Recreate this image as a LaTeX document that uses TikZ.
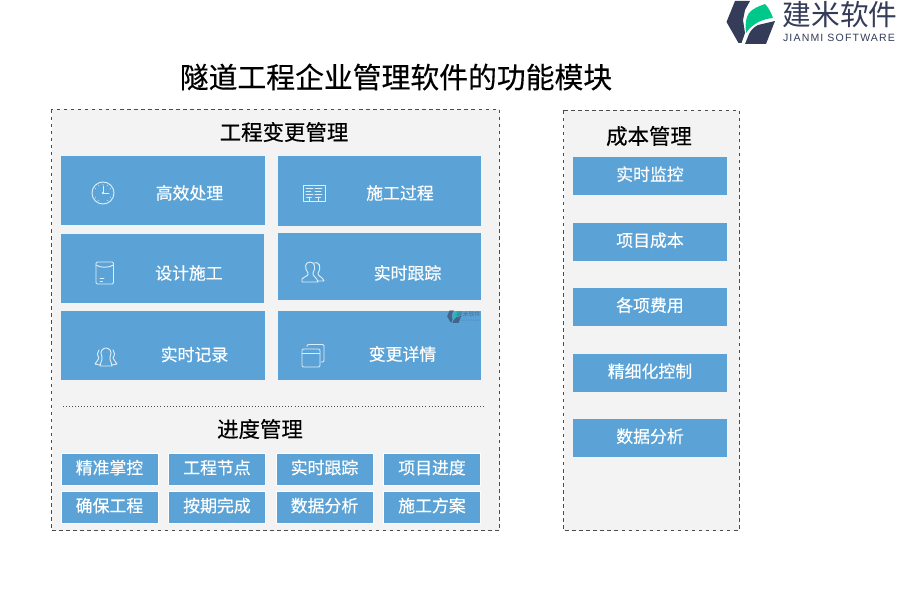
\documentclass[tikz,border=0pt]{standalone}
\usepackage{fontspec}
\setmainfont[FakeBold=0.35]{Noto Sans CJK SC}
\newfontfamily\brandcjk{Noto Sans CJK SC}
\newfontfamily\brandfont[LetterSpace=11]{Liberation Sans}
\usepackage{tikz}
\definecolor{panelgray}{HTML}{F3F3F3}
\definecolor{tileblue}{HTML}{5BA3D6}
\definecolor{logonavy}{HTML}{343C5A}
\definecolor{logogreen}{HTML}{00C88A}
\colorlet{iconline}{white!80!tileblue}
\tikzset{
  panel/.style={draw=black!70, dashed, fill=panelgray, line width=0.85pt},
  bigtile/.style={fill=tileblue, inner sep=0pt},
  smalltile/.style={draw=white, line width=0.5pt, fill=tileblue, inner sep=0pt, minimum width=2.91cm, minimum height=0.96cm, text=white, text height=0.42cm, text depth=0.12cm, font=\fontsize{14.4}{14.4}\selectfont},
  costtile/.style={fill=tileblue, inner sep=0pt, minimum width=4.62cm, minimum height=1.14cm, text=white, text height=0.42cm, text depth=0.14cm, font=\fontsize{14.4}{14.4}\selectfont},
  tilelabel/.style={text=white, font=\fontsize{14.4}{14.4}\selectfont},
  headlabel/.style={text=black, font=\fontsize{18.3}{18.3}\selectfont},
  iconstroke/.style={draw=iconline, line width=0.8pt, line join=round, line cap=round},
  logomark/.pic={
    \fill[logonavy] (735,1) -- (750,1) -- (745,10) -- (743,20) -- (745,33) -- (741.5,43) -- (738.5,43) -- (726.5,22) -- cycle;
    \fill[logonavy] (775,21) -- (766,44) -- (745,44) -- (749,34) .. controls (751,30) and (754,27) .. (758,25) -- cycle;
    \fill[logogreen] (746,33) .. controls (745,24) and (746,17) .. (749,13) .. controls (752,9) and (759,6) .. (765,4) .. controls (768,7) and (771,12) .. (773,18) .. controls (762,19) and (752,24) .. (746,33) -- cycle;
  }
}

\begin{document}
\begin{tikzpicture}[x=0.03cm,y=-0.03cm]
\useasboundingbox (0,0) rectangle (900,600);
\fill[white] (0,0) rectangle (900,600);
% panels
\draw[panel] (51.5,109.5) rectangle (499.5,530.5);
\draw[panel] (563.5,110.5) rectangle (739.5,530.5);
\draw[black!70, dotted, line width=0.6pt] (63,406) -- (484,406);
% logo
\pic at (0,0) {logomark};
\node[text=logonavy, font=\brandcjk\fontsize{24.5}{24.5}\selectfont] (brandcn) at (840,15) {建米软件};
\node[text=logonavy, font=\brandfont\fontsize{9}{9}\selectfont] (branden) at (839,38) {JIANMI SOFTWARE};
% title
\node[text=black, font=\fontsize{24.6}{24.6}\selectfont] (title) at (396,77) {隧道工程企业管理软件的功能模块};
\node[headlabel] (changehead) at (284,132) {工程变更管理};
\node[headlabel] (progresshead) at (260,429) {进度管理};
\node[headlabel] (costhead) at (649,136) {成本管理};
% big tiles
\fill[bigtile] (61,156) rectangle (265,225);
\fill[bigtile] (61,234) rectangle (264,303);
\fill[bigtile] (61,311) rectangle (265,380);
\fill[bigtile] (278,156) rectangle (481,226);
\fill[bigtile] (278,233) rectangle (481,300);
\fill[bigtile] (278,311) rectangle (481,380);
\node[tilelabel] (handle) at (189.5,193) {高效处理};
\node[tilelabel] (design) at (189,273) {设计施工};
\node[tilelabel] (record) at (194.5,354.5) {实时记录};
\node[tilelabel] (process) at (400,193) {施工过程};
\node[tilelabel] (tracking) at (407.5,273) {实时跟踪};
\node[tilelabel] (detail) at (402.5,354) {变更详情};
% clock
\draw[iconstroke] (103,193) circle (11);
\draw[iconstroke] (103,186) -- (103,193) -- (109,193);
\fill[iconline] (103,193) circle (1.4);
\foreach \a in {30,60,120,150,210,240,270,300,330}
  \fill[iconline] (103,193) ++(\a:8.5) circle (0.5);
% envelope
\draw[iconstroke, rounded corners=1pt] (96,262) rectangle (113.5,284);
\draw[iconstroke] (96,265) .. controls (100,268) and (109,268) .. (113.5,265);
\draw[iconstroke] (100,278) -- (104,278) (100,281) -- (102.5,281);
% three people
\draw[iconstroke] (100,366) .. controls (101,360) and (103,360) .. (102,357) .. controls (99,351) and (103,348) .. (106,348) .. controls (109,348) and (113,351) .. (110,357) .. controls (109,360) and (111,360) .. (112,366) -- cycle;
\draw[iconstroke] (99,350) .. controls (97,352) and (97,355) .. (99,358) .. controls (99,360) and (96,361) .. (95,364) -- (100,365);
\draw[iconstroke] (113,350) .. controls (115,352) and (115,355) .. (113,358) .. controls (113,360) and (116,361) .. (117,364) -- (112,365);
% board
\draw[iconstroke] (303,185) rectangle (325,201);
\draw[iconstroke] (306,188.5) -- (313,188.5) (306,191.5) -- (311,191.5) (306,194.5) -- (313,194.5);
\draw[iconstroke] (315,188.5) -- (322,188.5) (315,191.5) -- (321,191.5) (315,194.5) -- (322,194.5);
\draw[iconstroke] (306.5,197) -- (311.5,197) (309,197) -- (309,201) (315.5,197) -- (320.5,197) (318,197) -- (318,201);
% two people
\draw[iconstroke] (302,282) -- (302,279) .. controls (305,276) and (309,276) .. (308,273) .. controls (304,268) and (305,262) .. (310,262) .. controls (315,262) and (316,268) .. (313,273) .. controls (312,276) and (317,277) .. (318,282) -- cycle;
\draw[iconstroke] (314,263) .. controls (319,261) and (322,267) .. (318,273) .. controls (317,276) and (323,277) .. (324,281) -- (318,281);
% windows
\draw[iconstroke, rounded corners=1pt] (302,349) rectangle (320,367);
\draw[iconstroke] (302,353.5) -- (320,353.5);
\draw[iconstroke, rounded corners=1pt] (307,346.5) -- (307,344.5) -- (324,344.5) -- (324,362) -- (321,362);
% watermark
\begin{scope}[shift={(447,310)}, scale=0.29, shift={(-726,0)}, opacity=0.6]
  \pic[transform shape] at (0,0) {logomark};
\end{scope}
\node[text=logonavy, opacity=0.5, inner sep=0pt, font=\brandcjk\fontsize{5.1}{5.1}\selectfont] (markcn) at (468.5,314) {建米软件};
\node[text=logonavy, opacity=0.3, inner sep=0pt, font=\brandfont\fontsize{1.8}{2}\selectfont] (marken) at (468.5,321) {JIANMI SOFTWARE};
% progress tiles
\node[smalltile] (fine) at (109.5,469) {精准掌控};
\node[smalltile] (nodes) at (217,469) {工程节点};
\node[smalltile] (follow) at (324.5,469) {实时跟踪};
\node[smalltile] (schedule) at (432,469) {项目进度};
\node[smalltile] (ensure) at (109.5,507) {确保工程};
\node[smalltile] (ontime) at (217,507) {按期完成};
\node[smalltile] (data) at (324.5,507) {数据分析};
\node[smalltile] (plan) at (432,507) {施工方案};
% cost tiles
\node[costtile] (monitor) at (650,176) {实时监控};
\node[costtile] (itemcost) at (650,242) {项目成本};
\node[costtile] (fees) at (650,307) {各项费用};
\node[costtile] (control) at (650,373) {精细化控制};
\node[costtile] (analysis) at (650,438) {数据分析};
\end{tikzpicture}
\end{document}
